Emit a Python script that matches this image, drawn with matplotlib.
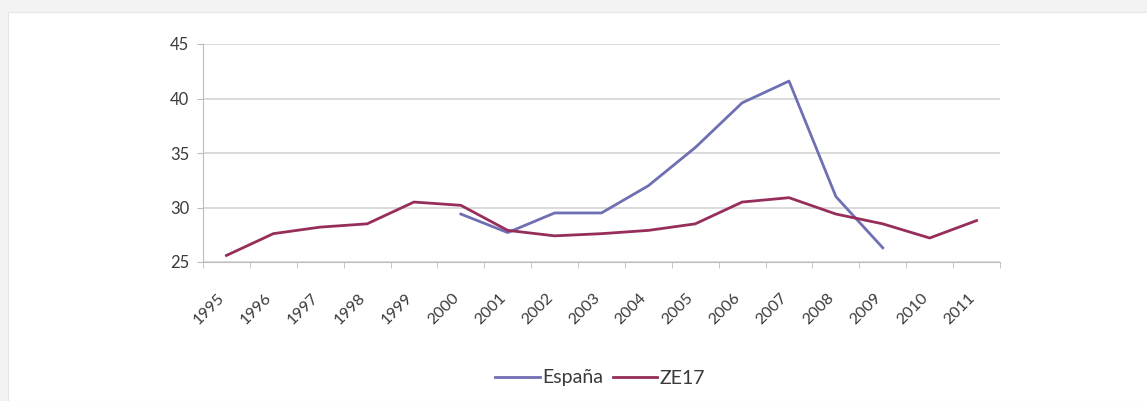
import numpy as np
import matplotlib.pyplot as plt
from matplotlib.patches import Rectangle
from matplotlib.transforms import ScaledTranslation

years = ['1995', '1996', '1997', '1998', '1999', '2000', '2001', '2002', '2003',
         '2004', '2005', '2006', '2007', '2008', '2009', '2010', '2011']
ze17 = [25.6, 27.6, 28.2, 28.5, 30.5, 30.2, 27.9, 27.4, 27.6,
        27.9, 28.5, 30.5, 30.9, 29.4, 28.5, 27.2, 28.8]
espana_years = years[5:15]
espana = [29.4, 27.7, 29.5, 29.5, 32.0, 35.5, 39.6, 41.6, 31.0, 26.3]

col_es = '#6f6fb4'
col_ze = '#962d5a'
grid_col = '#d4d4d4'
txt_col = '#3a3a3a'

plt.rcParams['font.family'] = ['Lato', 'DejaVu Sans']

fig = plt.figure(figsize=(11.47, 4.01), dpi=100, facecolor='#f3f3f3')
# white panel behind the chart
fig.patches.append(Rectangle((8 / 1147, 0), 1, 1 - 12 / 401, transform=fig.transFigure,
                             facecolor='white', edgecolor='#e6e6e6', lw=0.8, zorder=-10))

ax = fig.add_axes([203 / 1147, 1 - 262 / 401, 797 / 1147, 218 / 401])
ax.set_facecolor('none')

x = np.arange(len(years))
xe = np.array([years.index(y) for y in espana_years])
ax.plot(xe, espana, color=col_es, lw=2, label='España', zorder=3)
ax.plot(x, ze17, color=col_ze, lw=2, label='ZE17', zorder=3)

ax.set_xlim(-0.5, len(years) - 0.5)
ax.set_ylim(25, 45)
ax.set_yticks([25, 30, 35, 40, 45])
ax.yaxis.grid(True, color=grid_col, lw=1.2)
ax.set_axisbelow(True)

ax.set_xticks(x)
ax.set_xticklabels(years, rotation=45, ha='right', va='top', rotation_mode='anchor')
ax.set_xticks(np.arange(-0.5, len(years)), minor=True)
ax.tick_params(axis='x', which='major', length=0, pad=21, labelsize=11.5, labelcolor=txt_col)
ax.tick_params(axis='x', which='minor', length=4, color='#bdbdbd')
ax.tick_params(axis='y', length=4, color='#bdbdbd', labelsize=12, labelcolor=txt_col, pad=6)
# labels sit a little left of the category centre
shift = ScaledTranslation(-9 / 100, 0, fig.dpi_scale_trans)
for lab in ax.get_xticklabels():
    lab.set_transform(lab.get_transform() + shift)

for s in ['top', 'right']:
    ax.spines[s].set_visible(False)
ax.spines['left'].set_color('#bdbdbd')
ax.spines['bottom'].set_color('#bdbdbd')

leg = fig.legend(loc='center', bbox_to_anchor=(600 / 1147, 1 - 378 / 401), ncol=2, frameon=False,
                 fontsize=14, handlelength=2.3, handletextpad=0.1, columnspacing=0.5)
for t in leg.get_texts():
    t.set_color(txt_col)

fig.savefig('out.png', dpi=100, facecolor=fig.get_facecolor())
